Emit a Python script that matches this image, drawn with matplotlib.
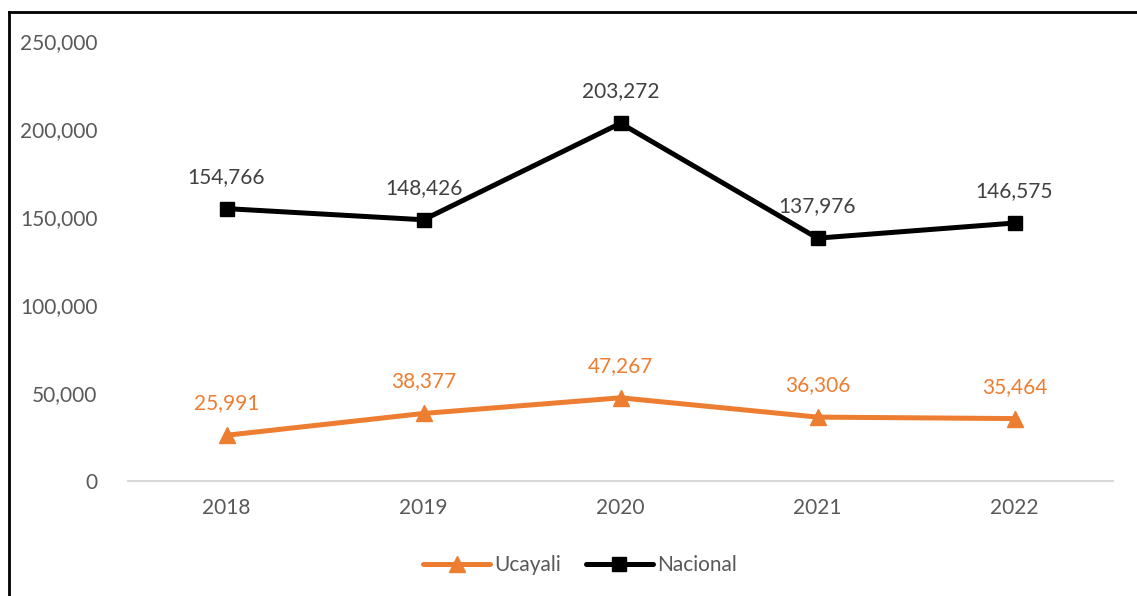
import matplotlib.pyplot as plt
from matplotlib.lines import Line2D

years = ["2018", "2019", "2020", "2021", "2022"]
ucayali = [25991, 38377, 47267, 36306, 35464]
nacional = [154766, 148426, 203272, 137976, 146575]

orange = "#ED7D31"
gray = "#595959"

plt.rcParams['font.family'] = ['Lato', 'DejaVu Sans']

fig = plt.figure(figsize=(11.37, 5.96), dpi=100)
ax = fig.add_axes([128 / 1137, 1 - 481 / 596, (1113 - 128) / 1137, (481 - 41) / 596])

x = range(len(years))
ax.plot(x, ucayali, color=orange, lw=3.6, marker="^", ms=11, label="Ucayali", solid_capstyle="round")
ax.plot(x, nacional, color="black", lw=3.6, marker="s", ms=9.5, label="Nacional", solid_capstyle="round")

for i, v in enumerate(ucayali):
    ax.annotate(f"{v:,}", (i, v), xytext=(0, 23), textcoords="offset points",
                ha="center", va="center", color=orange, fontsize=15)
for i, v in enumerate(nacional):
    ax.annotate(f"{v:,}", (i, v), xytext=(0, 23), textcoords="offset points",
                ha="center", va="center", color="#404040", fontsize=15)

ax.set_xlim(-0.5, 4.5)
ax.set_ylim(0, 250000)
ax.set_yticks(range(0, 250001, 50000))
ax.set_yticklabels([f"{t:,}" for t in range(0, 250001, 50000)])
ax.set_xticks(list(x))
ax.set_xticklabels(years)
ax.tick_params(length=0, labelsize=15, colors=gray)
ax.tick_params(axis="y", pad=22)
ax.tick_params(axis="x", pad=12)
for s in ["top", "right", "left"]:
    ax.spines[s].set_visible(False)
ax.spines["bottom"].set_color("#D9D9D9")
ax.spines["bottom"].set_linewidth(1.5)

leg = fig.legend(loc="center", bbox_to_anchor=(580 / 1137, 1 - 565 / 596), ncol=2,
                 frameon=False, fontsize=15, handlelength=3.2, columnspacing=1.2,
                 handletextpad=0.2)
for t in leg.get_texts():
    t.set_color(gray)

# outer frame (left and top edges visible)
fig.add_artist(Line2D([9 / 1137, 9 / 1137], [0, 1 - 12 / 596], transform=fig.transFigure, color="black", lw=2))
fig.add_artist(Line2D([9 / 1137, 1], [1 - 12 / 596, 1 - 12 / 596], transform=fig.transFigure, color="black", lw=2))

fig.savefig("out.png", dpi=100)
